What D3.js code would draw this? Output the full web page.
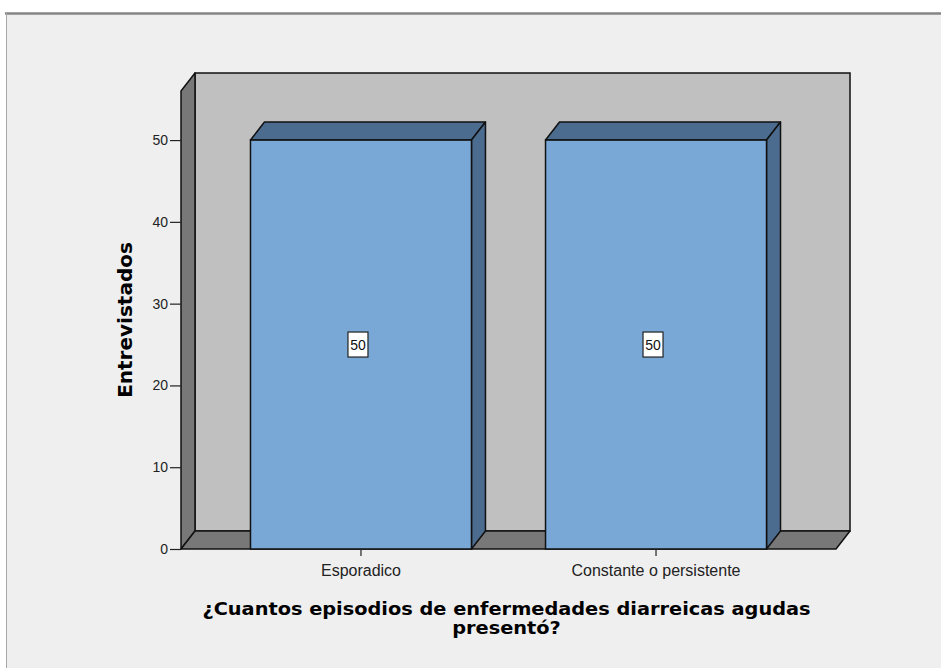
<!DOCTYPE html>
<html>
<head>
<meta charset="utf-8">
<script src="https://cdn.jsdelivr.net/npm/d3@7"></script>
<style>
  body { margin: 0; background: #fff; }
  text { font-family: "Liberation Sans", Arial, sans-serif; }
</style>
</head>
<body>
<div id="chart"></div>
<script>
// data
var categories = ["Esporadico", "Constante o persistente"];
var values = [50, 50];
var yTicks = [0, 10, 20, 30, 40, 50];
var xTitle = ["¿Cuantos episodios de enfermedades diarreicas agudas", "presentó?"];
var yTitle = "Entrevistados";

var W = 941, H = 668;
var dx = 14, dy = -18; // 3d depth offset

var svg = d3.select("#chart").append("svg")
    .attr("width", W)
    .attr("height", H);

// panel background + frame
svg.append("rect").attr("x", 6).attr("y", 13).attr("width", W - 6).attr("height", H - 13)
    .attr("fill", "#efefef");
svg.append("line").attr("x1", 5).attr("x2", W).attr("y1", 13.5).attr("y2", 13.5)
    .attr("stroke", "#858585").attr("stroke-width", 2.5);
svg.append("line").attr("x1", 6.5).attr("x2", 6.5).attr("y1", 13).attr("y2", H)
    .attr("stroke", "#a8a8a8").attr("stroke-width", 1);

var x = d3.scaleBand()
    .domain(categories)
    .range([181, 836])
    .paddingInner(0.251)
    .paddingOuter(0.2355);

var y = d3.scaleLinear()
    .domain([0, 56])
    .range([549, 91]);

var x0 = x.range()[0], x1 = x.range()[1];
var yb = y(0), yt = y(56);

function pts(a) { return a.map(function(p) { return p.join(","); }).join(" "); }

// walls
svg.append("rect")
    .attr("x", x0 + dx).attr("y", yt + dy)
    .attr("width", x1 - x0).attr("height", yb - yt)
    .attr("fill", "#c0c0c0").attr("stroke", "#111").attr("stroke-width", 1.5);
svg.append("polygon")
    .attr("points", pts([[x0, yt], [x0 + dx, yt + dy], [x0 + dx, yb + dy], [x0, yb]]))
    .attr("fill", "#787878").attr("stroke", "#111").attr("stroke-width", 1.5)
    .attr("stroke-linejoin", "round");
svg.append("polygon")
    .attr("points", pts([[x0, yb], [x0 + dx, yb + dy], [x1 + dx, yb + dy], [x1, yb]]))
    .attr("fill", "#787878").attr("stroke", "#111").attr("stroke-width", 1.5)
    .attr("stroke-linejoin", "round");

// bars
var bars = svg.append("g").selectAll("g")
    .data(categories)
    .enter().append("g");

bars.append("polygon") // top
    .attr("points", function(d, i) {
        var l = x(d), r = x(d) + x.bandwidth(), t = y(values[i]);
        return pts([[l, t], [l + dx, t + dy], [r + dx, t + dy], [r, t]]);
    })
    .attr("fill", "#4b6c8e").attr("stroke", "#111").attr("stroke-width", 1.5)
    .attr("stroke-linejoin", "round");
bars.append("polygon") // side
    .attr("points", function(d, i) {
        var r = x(d) + x.bandwidth(), t = y(values[i]);
        return pts([[r, t], [r + dx, t + dy], [r + dx, yb + dy], [r, yb]]);
    })
    .attr("fill", "#4b6c8e").attr("stroke", "#111").attr("stroke-width", 1.5)
    .attr("stroke-linejoin", "round");
bars.append("rect") // front
    .attr("x", function(d) { return x(d); })
    .attr("y", function(d, i) { return y(values[i]); })
    .attr("width", x.bandwidth())
    .attr("height", function(d, i) { return yb - y(values[i]); })
    .attr("fill", "#79a8d7").attr("stroke", "#111").attr("stroke-width", 1.5);

// value labels
var lab = bars.append("g")
    .attr("transform", function(d, i) {
        return "translate(" + (x(d) + x.bandwidth() / 2 - 3) + "," + y(values[i] / 2) + ")";
    });
lab.append("rect")
    .attr("x", -10).attr("y", -12.5).attr("width", 20).attr("height", 25)
    .attr("fill", "#fff").attr("stroke", "#222").attr("stroke-width", 1.2);
lab.append("text")
    .attr("text-anchor", "middle").attr("dy", "0.36em")
    .style("font-size", "14px").attr("fill", "#111")
    .text(function(d, i) { return values[i]; });

// y axis
var yAxis = svg.append("g")
    .attr("transform", "translate(" + x0 + ",0)")
    .call(d3.axisLeft(y).tickValues(yTicks).tickSize(11).tickSizeOuter(0).tickPadding(2));
yAxis.select(".domain").remove();
yAxis.selectAll(".tick line").attr("stroke", "#222").attr("stroke-width", 1.2);
yAxis.selectAll(".tick text").style("font-size", "14px").attr("fill", "#222")
    .style("font-family", "'Liberation Sans', Arial, sans-serif");

// x axis
var xAxis = svg.append("g")
    .attr("transform", "translate(0," + yb + ")")
    .call(d3.axisBottom(x).tickSize(7).tickSizeOuter(0).tickPadding(9));
xAxis.select(".domain").remove();
xAxis.selectAll(".tick line").attr("stroke", "#222").attr("stroke-width", 1.2);
xAxis.selectAll(".tick text").style("font-size", "16px").attr("fill", "#222")
    .style("font-family", "'Liberation Sans', Arial, sans-serif");

// titles
svg.append("text")
    .attr("transform", "translate(132," + ((yb + yt) / 2) + ") rotate(-90)")
    .attr("text-anchor", "middle")
    .style("font-family", "'DejaVu Sans', sans-serif")
    .style("font-weight", "bold").style("font-size", "20px")
    .text(yTitle);

svg.append("text")
    .attr("transform", "translate(" + ((x0 + x1) / 2 - 2) + ",0) scale(1.075,1)")
    .attr("text-anchor", "middle")
    .style("font-family", "'DejaVu Sans', sans-serif")
    .style("font-weight", "bold").style("font-size", "18px")
    .selectAll("tspan")
    .data(xTitle)
    .enter().append("tspan")
    .attr("x", 0)
    .attr("y", function(d, i) { return 615 + i * 19.5; })
    .text(function(d) { return d; });
</script>
</body>
</html>
